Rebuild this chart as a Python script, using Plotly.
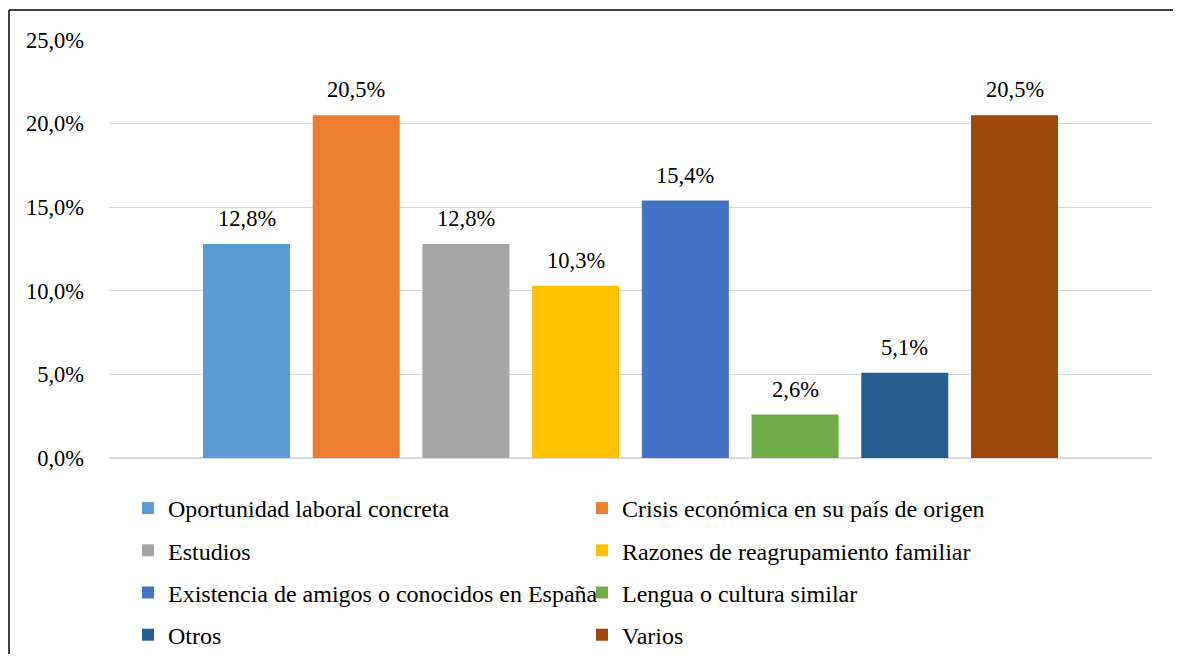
import plotly.graph_objects as go

categories = [
    "Oportunidad laboral concreta",
    "Crisis económica en su país de origen",
    "Estudios",
    "Razones de reagrupamiento familiar",
    "Existencia de amigos o conocidos en España",
    "Lengua o cultura similar",
    "Otros",
    "Varios",
]
values = [12.8, 20.5, 12.8, 10.3, 15.4, 2.6, 5.1, 20.5]
colors = ["#5B9BD5", "#ED7D31", "#A5A5A5", "#FFC000", "#4472C4", "#70AD47", "#255E91", "#9E480E"]
y_ticks = [0, 5, 10, 15, 20, 25]
y_tick_labels = ["0,0%", "5,0%", "10,0%", "15,0%", "20,0%", "25,0%"]

FONT = "Liberation Serif"
OFF = 8  # page body margin
W, H = 1181 - OFF, 662 - 2 * OFF
L, R, T, B = 109 - OFF, W - (1152 - OFF), 40 - OFF, H - (458 - OFF)
PW, PH = W - L - R, H - T - B

fig = go.Figure()
for i, (c, v, col) in enumerate(zip(categories, values, colors)):
    fig.add_trace(go.Bar(
        x=[c], y=[v], name=c, marker_color=col, marker_line_width=0,
        legend="legend" if i % 2 == 0 else "legend2",
        legendgroup=f"g{i}", hoverinfo="skip",
    ))
    fig.add_annotation(
        x=c, y=v, text=f"{v:.1f}%".replace(".", ","), showarrow=False,
        yanchor="bottom", yshift=11, font=dict(family=FONT, size=22.5, color="#000"),
    )

def px_x(p):
    return (p - OFF - L) / PW

def px_y(p):
    return 1 - (p - OFF - T) / PH

shapes = [
    dict(type="line", xref="paper", yref="paper", x0=px_x(9), x1=px_x(9), y0=px_y(10), y1=px_y(670),
         line=dict(color="#000", width=1.5)),
    dict(type="line", xref="paper", yref="paper", x0=px_x(9), x1=px_x(1181), y0=px_y(10), y1=px_y(10),
         line=dict(color="#000", width=1.5)),
    dict(type="line", xref="paper", yref="paper", x0=px_x(1180), x1=px_x(1180), y0=px_y(10), y1=px_y(670),
         line=dict(color="#d9d9d9", width=1)),
]

legend_common = dict(
    orientation="v", xref="container", yref="container", xanchor="left", yanchor="top",
    font=dict(family=FONT, size=24, color="#000"), tracegroupgap=8,
    bgcolor="rgba(0,0,0,0)", itemclick=False, itemdoubleclick=False,
)

fig.update_layout(
    width=W, height=H,
    margin=dict(l=L, r=R, t=T, b=B, autoexpand=False),
    paper_bgcolor="#fff", plot_bgcolor="#fff",
    barmode="relative", bargap=0.207,
    showlegend=True,
    font=dict(family=FONT, color="#000"),
    xaxis=dict(type="category", categoryorder="array", categoryarray=categories,
               range=[-1.2533, 8.2533], showticklabels=False, showgrid=False, zeroline=False,
               showline=False, ticks="", fixedrange=True),
    yaxis=dict(range=[0, 25], tickvals=y_ticks, ticktext=y_tick_labels,
               showgrid=True, gridcolor="#d9d9d9", gridwidth=1, zeroline=True,
               zerolinecolor="#d9d9d9", zerolinewidth=1.5, showline=False, ticks="",
               ticklabelstandoff=24, tickfont=dict(family=FONT, size=22.5, color="#000"),
               fixedrange=True),
    legend=dict(x=120 / W, y=1 - 478 / H, **legend_common),
    legend2=dict(x=574 / W, y=1 - 478 / H, **legend_common),
    shapes=shapes,
)

fig.write_html("out.html")
